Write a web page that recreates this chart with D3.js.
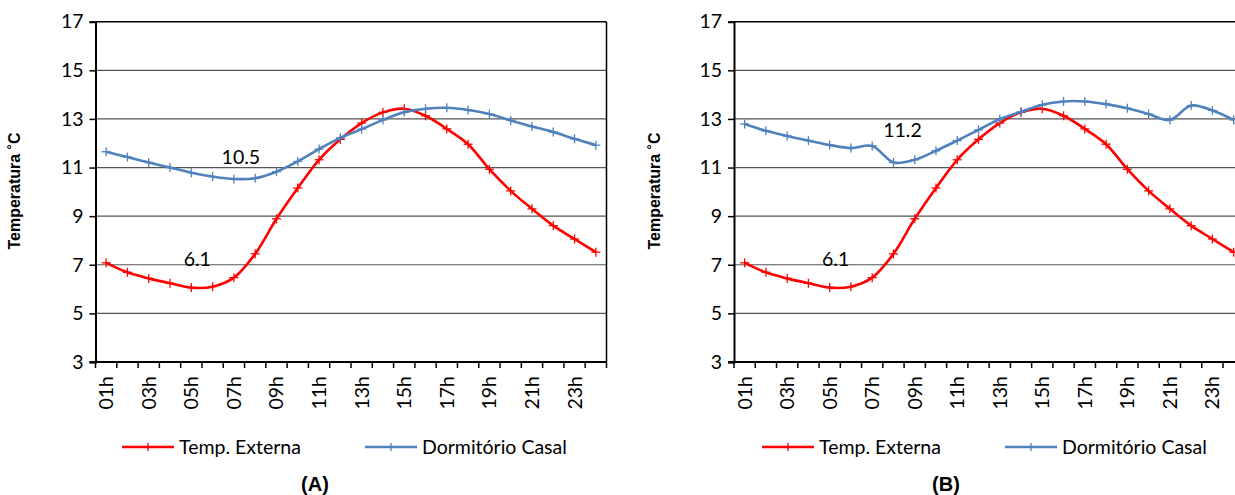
<!DOCTYPE html>
<html>
<head>
<meta charset="utf-8">
<script src="https://cdn.jsdelivr.net/npm/d3@7"></script>
<style>
  body { margin: 0; background: #fff; }
  text { font-family: Lato, "Open Sans", sans-serif; }
</style>
</head>
<body>
<svg id="chart" width="1235" height="495"></svg>
<script>
// hours on the x axis, only odd ones get a label
const hours = d3.range(1, 25).map(h => (h < 10 ? "0" : "") + h + "h");
const hourLabels = hours.filter((h, i) => i % 2 === 0);
const yTicks = [3, 5, 7, 9, 11, 13, 15, 17];

// outside temperature (same in both panels)
const tempExterna = [7.08, 6.69, 6.44, 6.24, 6.06, 6.10, 6.47, 7.45, 8.89, 10.16, 11.32, 12.16,
                     12.83, 13.27, 13.42, 13.13, 12.59, 11.96, 10.93, 10.04, 9.30, 8.61, 8.06, 7.52];
// bedroom, case A
const dormA = [11.65, 11.43, 11.21, 11.00, 10.79, 10.63, 10.53, 10.56, 10.83, 11.25, 11.76, 12.22,
               12.58, 12.96, 13.27, 13.42, 13.46, 13.37, 13.20, 12.94, 12.69, 12.46, 12.18, 11.92];
// bedroom, case B
const dormB = [12.79, 12.51, 12.30, 12.11, 11.93, 11.80, 11.89, 11.21, 11.32, 11.69, 12.11, 12.55,
               12.99, 13.29, 13.58, 13.72, 13.72, 13.61, 13.44, 13.20, 12.96, 13.55, 13.35, 12.96];

const seriesNames = ["Temp. Externa", "Dormitório Casal"];
const colors = ["#ff0000", "#4f81bd"];
const fs = 19.5;

const svg = d3.select("#chart");

function panel(opts){
    const g = svg.append("g");
    const x = d3.scaleBand().domain(hours).range([opts.left, opts.right]);
    const y = d3.scaleLinear().domain([3, 17]).range([362, 21.7]);
    const cx = d => x(d) + x.bandwidth() / 2;

    // grid
    g.selectAll(".grid")
        .data(yTicks.slice(1))
        .enter().append("line")
        .attr("x1", opts.left).attr("x2", opts.right)
        .attr("y1", d => y(d)).attr("y2", d => y(d))
        .attr("stroke", d => d === 17 ? "#000" : "#555").attr("stroke-width", d => d === 17 ? 1.5 : 1.2);

    // right border
    g.append("line")
        .attr("x1", opts.right).attr("x2", opts.right)
        .attr("y1", y(17)).attr("y2", y(3))
        .attr("stroke", "#000").attr("stroke-width", 1.5);

    // y axis
    g.append("g")
        .attr("transform", "translate(" + opts.left + ",0)")
        .call(d3.axisLeft(y).tickValues(yTicks).tickSize(6).tickPadding(6))
        .call(a => a.select(".domain").attr("stroke-width", 2))
        .call(a => a.selectAll("line").attr("stroke-width", 1.5))
        .call(a => a.selectAll("text").attr("font-size", fs).attr("fill", "#000")
            .style("font-family", "Lato, sans-serif"));

    // x axis line + ticks at band edges
    g.append("line")
        .attr("x1", opts.left - 6).attr("x2", opts.right)
        .attr("y1", y(3)).attr("y2", y(3))
        .attr("stroke", "#000").attr("stroke-width", 2);
    const edges = hours.map(h => x(h)).concat([opts.right]);
    g.selectAll(".xt")
        .data(edges)
        .enter().append("line")
        .attr("x1", d => d).attr("x2", d => d)
        .attr("y1", y(3)).attr("y2", y(3) + 6)
        .attr("stroke", "#000").attr("stroke-width", 1.5);
    g.selectAll(".xl")
        .data(hourLabels)
        .enter().append("text")
        .attr("transform", d => "translate(" + (cx(d) + 7) + "," + (y(3) + 14) + ") rotate(-90)")
        .attr("text-anchor", "end")
        .attr("font-size", fs)
        .text(d => d);

    // y title
    g.append("text")
        .attr("transform", "translate(" + (opts.titleX + 6) + ",191) rotate(-90)")
        .attr("text-anchor", "middle")
        .attr("font-size", 16).attr("font-weight", "bold")
        .style("font-family", "'Liberation Sans', Arial, sans-serif")
        .text("Temperatura ˚C");

    const line = d3.line()
        .x((d, i) => cx(hours[i]))
        .y(d => y(d))
        .curve(d3.curveCatmullRom.alpha(0.5));

    [tempExterna, opts.dorm].forEach((s, k) => {
        g.append("path")
            .datum(s)
            .attr("d", line)
            .attr("fill", "none")
            .attr("stroke", colors[k])
            .attr("stroke-width", 2.6);
        const m = g.selectAll(".m" + k)
            .data(s)
            .enter().append("g")
            .attr("transform", (d, i) => "translate(" + cx(hours[i]) + "," + y(d) + ")");
        m.append("line").attr("x1", -4.5).attr("x2", 4.5).attr("stroke", colors[k]).attr("stroke-width", 1.3);
        m.append("line").attr("y1", -4.5).attr("y2", 4.5).attr("stroke", colors[k]).attr("stroke-width", 1.3);
    });

    // value notes
    opts.notes.forEach(n => {
        g.append("text")
            .attr("x", cx(hours[n.i]) + n.dx)
            .attr("y", y(n.v) + n.dy)
            .attr("text-anchor", "middle")
            .attr("font-size", fs)
            .text(n.v.toFixed(1));
    });

    // legend
    const lg = g.append("g").attr("transform", "translate(" + opts.legendX + ",447)");
    seriesNames.forEach((name, k) => {
        const off = k * 243;
        lg.append("line").attr("x1", off).attr("x2", off + 52)
            .attr("stroke", colors[k]).attr("stroke-width", 2.6);
        lg.append("line").attr("x1", off + 26).attr("x2", off + 26).attr("y1", -4).attr("y2", 4)
            .attr("stroke", colors[k]).attr("stroke-width", 1.3);
        lg.append("text").attr("x", off + 57).attr("y", 7)
            .attr("font-size", fs).text(name);
    });

    // caption
    g.append("text")
        .attr("x", opts.captionX).attr("y", 491)
        .attr("text-anchor", "middle")
        .attr("font-size", 20).attr("font-weight", "bold")
        .style("font-family", "'Liberation Sans', Arial, sans-serif")
        .text(opts.caption);
}

panel({left: 95.5, right: 606.5, dorm: dormA, titleX: 14, legendX: 122, captionX: 315, caption: "(A)",
       notes: [{i: 6, v: 10.5, dx: 7, dy: -16}, {i: 4, v: 6.1, dx: 6, dy: -21}]});
panel({left: 734, right: 1244.3, dorm: dormB, titleX: 654, legendX: 762, captionX: 946, caption: "(B)",
       notes: [{i: 7, v: 11.2, dx: 9, dy: -26}, {i: 4, v: 6.1, dx: 6, dy: -21}]});
</script>
</body>
</html>
